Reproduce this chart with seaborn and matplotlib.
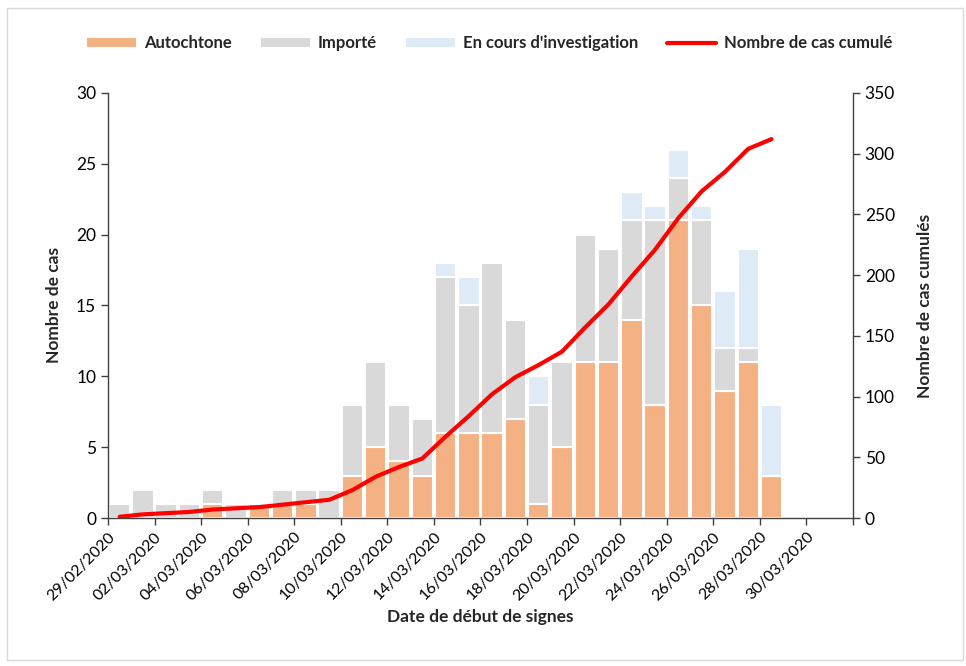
import numpy as np
import pandas as pd
import matplotlib
matplotlib.use("Agg")
import matplotlib.pyplot as plt
from matplotlib.patches import Patch, Rectangle
from matplotlib.lines import Line2D
import seaborn as sns

# daily counts from 29/02/2020 to 28/03/2020
dates = pd.date_range("2020-02-29", "2020-03-28", freq="D")
autochtone = [0, 0, 0, 0, 1, 0, 1, 1, 1, 0, 3, 5, 4, 3, 6, 6, 6, 7, 1, 5,
              11, 11, 14, 8, 21, 15, 9, 11, 3]
importe = [1, 2, 1, 1, 1, 1, 0, 1, 1, 2, 5, 6, 4, 4, 11, 9, 12, 7, 7, 6,
           9, 8, 7, 13, 3, 6, 3, 1, 0]
investigation = [0, 0, 0, 0, 0, 0, 0, 0, 0, 0, 0, 0, 0, 0, 1, 2, 0, 0, 2, 0,
                 0, 0, 2, 1, 2, 1, 4, 7, 5]
cumul = [1, 3, 4, 5, 7, 8, 9, 11, 13, 15, 23, 34, 42, 49, 67, 84, 102, 116,
         126, 137, 157, 176, 199, 221, 247, 269, 285, 304, 312]
tick_labels = ["29/02/2020", "02/03/2020", "04/03/2020", "06/03/2020",
               "08/03/2020", "10/03/2020", "12/03/2020", "14/03/2020",
               "16/03/2020", "18/03/2020", "20/03/2020", "22/03/2020",
               "24/03/2020", "26/03/2020", "28/03/2020", "30/03/2020"]

c_auto = "#F4B183"
c_imp = "#D9D9D9"
c_inv = "#DEEBF7"
c_line = "#FF0000"

sns.set_style("ticks")
plt.rcParams["font.family"] = ["Lato", "DejaVu Sans"]

day = np.arange(len(dates))
df = pd.concat([
    pd.DataFrame({"day": day, "n": autochtone, "type": "Autochtone"}),
    pd.DataFrame({"day": day, "n": importe, "type": "Importé"}),
    pd.DataFrame({"day": day, "n": investigation, "type": "En cours d'investigation"}),
])

fig = plt.figure(figsize=(9.66, 6.66), dpi=100)
ax = fig.add_axes([0.1118, 0.2222, 0.7712, 0.6382])

sns.histplot(data=df, x="day", weights="n", hue="type", multiple="stack",
             discrete=True, shrink=0.92,
             hue_order=["En cours d'investigation", "Importé", "Autochtone"],
             palette=[c_inv, c_imp, c_auto], alpha=1,
             edgecolor="white", linewidth=1.5, legend=False, ax=ax)

ax2 = ax.twinx()
sns.lineplot(x=day, y=cumul, color=c_line, linewidth=3, ax=ax2, legend=False)

ax.set_xlim(-0.5, 31.5)
ax.set_ylim(0, 30)
ax2.set_ylim(0, 350)
ax.set_yticks(range(0, 31, 5))
ax2.set_yticks(range(0, 351, 50))
ax.set_xticks(np.arange(-0.5, 32, 2))
ax.set_xticklabels(tick_labels + [""], rotation=45, ha="right",
                   rotation_mode="anchor")

for a in (ax, ax2):
    a.spines["top"].set_visible(False)
    for s in ("left", "right", "bottom"):
        a.spines[s].set_color("#404040")
        a.spines[s].set_linewidth(1)
    a.tick_params(colors="#404040", labelcolor="black", length=5, width=1,
                  labelsize=12.5)
ax.tick_params(axis="x", labelsize=11.5)
ax.spines["right"].set_visible(False)
ax2.spines["left"].set_visible(False)
ax2.spines["bottom"].set_visible(False)

ax.set_xlabel("Date de début de signes", fontsize=12.5, fontweight="bold",
              labelpad=4)
ax.set_ylabel("Nombre de cas", fontsize=12.5, fontweight="bold", labelpad=10)
ax2.set_ylabel("Nombre de cas cumulés", fontsize=12.5, fontweight="bold",
               labelpad=16)

handles = [Patch(facecolor=c_auto, edgecolor="none"),
           Patch(facecolor=c_imp, edgecolor="none"),
           Patch(facecolor=c_inv, edgecolor="none"),
           Line2D([0], [0], color=c_line, linewidth=3)]
labels = ["Autochtone", "Importé", "En cours d'investigation",
          "Nombre de cas cumulé"]
fig.legend(handles, labels, loc="center", bbox_to_anchor=(0.507, 0.935),
           ncol=4, frameon=False, handlelength=2.95, handleheight=0.5,
           columnspacing=1.7, handletextpad=0.5,
           prop={"weight": "bold", "size": 12})

fig.patches.append(Rectangle((7 / 966, 1 - 660 / 666), 956 / 966, 652 / 666,
                             transform=fig.transFigure, fill=False,
                             edgecolor="#D9D9D9", linewidth=1))

fig.savefig("out.png", dpi=100)
